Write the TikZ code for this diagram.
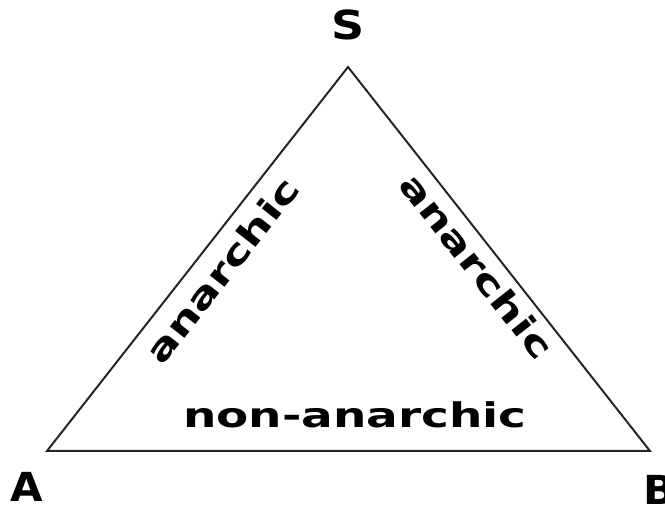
\documentclass[tikz,border=0pt]{standalone}
\usepackage{fontspec}
\setmainfont{DejaVu Sans}
\tikzset{
  lbl/.style={inner sep=0pt, font=\fontsize{34}{36}\selectfont\bfseries},
  vlbl/.style={inner sep=0pt, font=\fontsize{40}{42}\selectfont\bfseries},
  edge/.style={line width=2pt, line join=miter, color=black!85}
}
\newcommand{\wide}[1]{\scalebox{1.38}[1]{#1}}
\begin{document}
\begin{tikzpicture}[x=1pt,y=1pt]
\useasboundingbox (0,0) rectangle (665,506);
\coordinate (vS) at (348,439);
\coordinate (vA) at (47,55);
\coordinate (vB) at (650,55);
\draw[edge] (vA) -- (vS) -- (vB) -- cycle;
\node[vlbl] (S) at (348,481) {\scalebox{1.15}[1]{S}};
\node[vlbl] (A) at (27,19) {\scalebox{1.05}[1]{A}};
\node[vlbl] (B) at (660,16) {\scalebox{1.05}[1]{B}};
\node[lbl, rotate=51.9] (left) at (222,236) {\wide{anarchic}};
\node[lbl, rotate=-51.8] (right) at (477,240) {\wide{anarchic}};
\node[lbl, anchor=base] (bottom) at (355,78) {\wide{non-anarchic}};
\end{tikzpicture}
\end{document}
